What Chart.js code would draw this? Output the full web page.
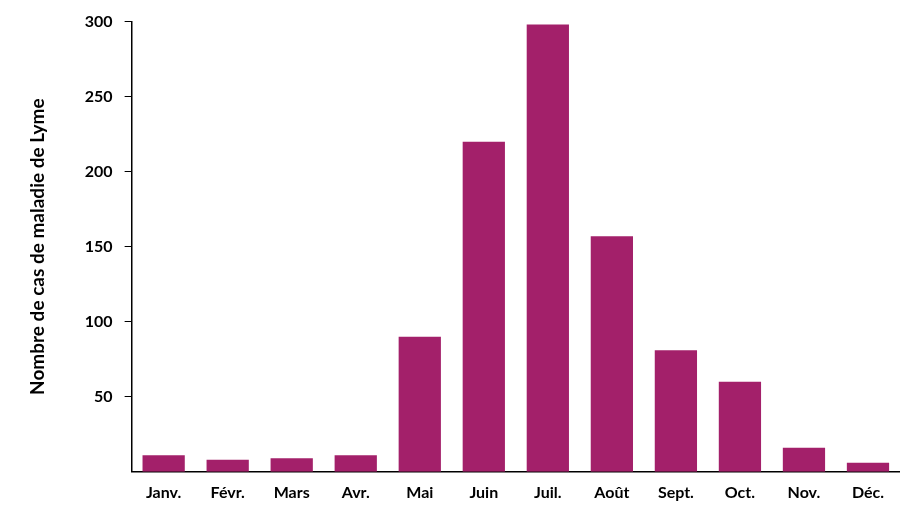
<!DOCTYPE html>
<html><head><meta charset="utf-8">
<script src="https://cdn.jsdelivr.net/npm/chart.js@4/dist/chart.umd.min.js"></script>
<style>html,body{margin:0;padding:0;background:#fff}#w{width:900px;height:515px}</style>
</head><body><div id="w"><canvas id="c"></canvas></div>
<script>
const categories = ["Janv.","Févr.","Mars","Avr.","Mai","Juin","Juil.","Août","Sept.","Oct.","Nov.","Déc."];
const cases = [11,8,9,11,90,220,298,157,81,60,16,6];
const yTicks = [50,100,150,200,250,300];
new Chart(document.getElementById('c'), {
  type: 'bar',
  data: { labels: categories, datasets: [{ data: cases, backgroundColor: '#A3206A', barPercentage: 0.66, categoryPercentage: 1 }] },
  options: {
    responsive: true, maintainAspectRatio: false, animation: false,
    layout: { padding: { top: 0, right: 0, bottom: 2, left: 22 } },
    plugins: { legend: { display: false }, tooltip: { enabled: false } },
    scales: {
      x: { grid: { display: false, drawTicks: false }, border: { color: '#000', width: 1.5 },
           ticks: { color: '#000', font: { family: 'Lato', size: 16, weight: 'bold' }, padding: 11 } },
      y: { min: 0, max: 300, border: { color: '#000', width: 1.5 },
           grid: { display: true, drawOnChartArea: false, drawTicks: true, tickLength: 7, color: '#000' },
           afterBuildTicks: s => { s.ticks = yTicks.map(v => ({ value: v })); },
           ticks: { color: '#000', font: { family: 'Lato', size: 16, weight: 'bold' }, padding: 12 },
           title: { display: true, text: 'Nombre de cas de maladie de Lyme', color: '#000', font: { family: 'Lato', size: 19, weight: 'bold' }, padding: { bottom: 24 } } }
    }
  }
});
</script></body></html>
